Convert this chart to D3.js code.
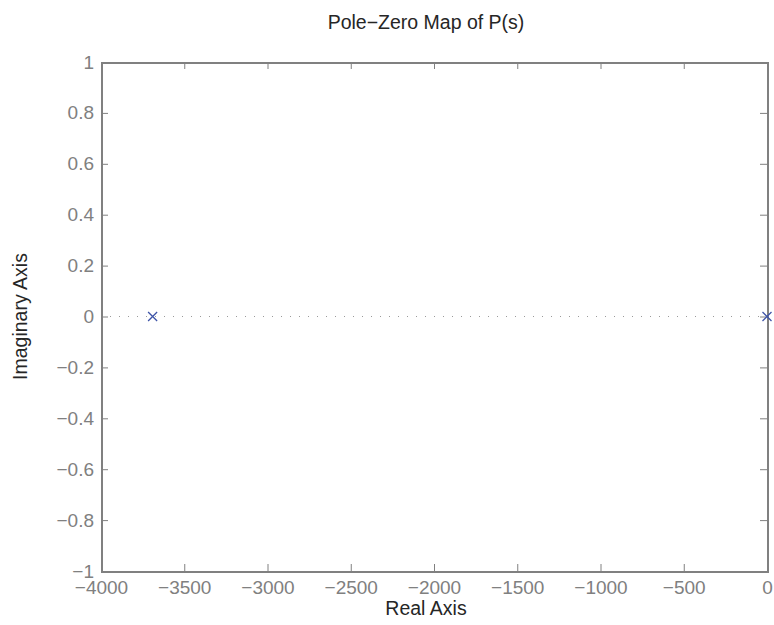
<!DOCTYPE html>
<html>
<head>
<meta charset="utf-8">
<script src="https://cdn.jsdelivr.net/npm/d3@7"></script>
<style>
  html, body { margin: 0; padding: 0; background: #fff; }
  svg { display: block; }
</style>
</head>
<body>
<svg id="chart" width="774" height="625"></svg>
<script>
// Poles of P(s): real and imaginary parts
const poleReal = [-3690, 0];
const poleImag = [0, 0];

// Axis limits and tick values
const xDomain = [-4000, 0];
const yDomain = [-1, 1];
const xTicks = [-4000, -3500, -3000, -2500, -2000, -1500, -1000, -500, 0];
const yTicks = [-1, -0.8, -0.6, -0.4, -0.2, 0, 0.2, 0.4, 0.6, 0.8, 1];

const titleText = "Pole\u2212Zero Map of P(s)";
const xLabelText = "Real Axis";
const yLabelText = "Imaginary Axis";

const svg = d3.select("#chart");
const margin = { left: 101, right: 7, top: 62, bottom: 54 };
const W = 774, H = 625;
const x = d3.scaleLinear().domain(xDomain).range([margin.left, W - margin.right]);
const y = d3.scaleLinear().domain(yDomain).range([H - margin.bottom, margin.top]);

const axisColor = "#808080";
const font = "'Liberation Sans', Arial, Helvetica, sans-serif";
const fmt = v => {
  const s = d3.format("~g")(Math.abs(v));
  return (v < 0 ? "\u2212" : "") + s;
};

// zero line along the real axis
svg.append("line")
  .attr("x1", x(xDomain[0])).attr("x2", x(xDomain[1]))
  .attr("y1", y(0)).attr("y2", y(0))
  .attr("stroke", "#9a9a9a").attr("stroke-width", 1)
  .attr("stroke-dasharray", "1,8")
  .attr("shape-rendering", "crispEdges");

// Axes: inward ticks on all four sides
const tickLen = 7;
function styleAxis(g, showLabels) {
  g.select(".domain").remove();
  g.selectAll(".tick line").attr("stroke", axisColor).attr("stroke-width", 1);
  g.selectAll(".tick text")
    .attr("fill", axisColor)
    .style("font-family", font)
    .style("font-size", "19px");
  if (!showLabels) g.selectAll(".tick text").remove();
}

svg.append("g")
  .attr("transform", `translate(0,${y(yDomain[0])})`)
  .call(d3.axisBottom(x).tickValues(xTicks).tickSizeInner(-tickLen).tickSizeOuter(0).tickPadding(10).tickFormat(fmt))
  .call(g => styleAxis(g, true));

svg.append("g")
  .attr("transform", `translate(0,${y(yDomain[1])})`)
  .call(d3.axisTop(x).tickValues(xTicks).tickSizeInner(-tickLen).tickSizeOuter(0))
  .call(g => styleAxis(g, false));

svg.append("g")
  .attr("transform", `translate(${x(xDomain[0])},0)`)
  .call(d3.axisLeft(y).tickValues(yTicks).tickSizeInner(-tickLen).tickSizeOuter(0).tickPadding(7).tickFormat(fmt))
  .call(g => styleAxis(g, true));

svg.append("g")
  .attr("transform", `translate(${x(xDomain[1])},0)`)
  .call(d3.axisRight(y).tickValues(yTicks).tickSizeInner(-tickLen).tickSizeOuter(0))
  .call(g => styleAxis(g, false));

// plot box
svg.append("rect")
  .attr("x", x(xDomain[0]) + 0.5).attr("y", y(yDomain[1]) + 0.5)
  .attr("width", x(xDomain[1]) - x(xDomain[0]))
  .attr("height", y(yDomain[0]) - y(yDomain[1]))
  .attr("fill", "none").attr("stroke", axisColor).attr("stroke-width", 2)
  .attr("shape-rendering", "crispEdges");

// pole markers (x)
const poles = poleReal.map((re, i) => ({ re, im: poleImag[i] }));
const m = 4.5;
const marks = svg.append("g").selectAll("g").data(poles).join("g")
  .attr("transform", d => `translate(${x(d.re)},${y(d.im)})`);
marks.append("path")
  .attr("d", `M${-m},${-m}L${m},${m}M${-m},${m}L${m},${-m}`)
  .attr("stroke", "#3f55a8").attr("stroke-width", 1.3).attr("fill", "none");

// titles
svg.append("text")
  .attr("x", 426).attr("y", 29)
  .attr("text-anchor", "middle")
  .attr("fill", "#262626")
  .style("font-family", font).style("font-size", "19.5px")
  .text(titleText);

svg.append("text")
  .attr("x", 426).attr("y", 615)
  .attr("text-anchor", "middle")
  .attr("fill", "#262626")
  .style("font-family", font).style("font-size", "19.5px")
  .text(xLabelText);

svg.append("text")
  .attr("transform", `translate(27,${y(0)}) rotate(-90)`)
  .attr("text-anchor", "middle")
  .attr("fill", "#262626")
  .style("font-family", font).style("font-size", "19.5px")
  .text(yLabelText);
</script>
</body>
</html>
